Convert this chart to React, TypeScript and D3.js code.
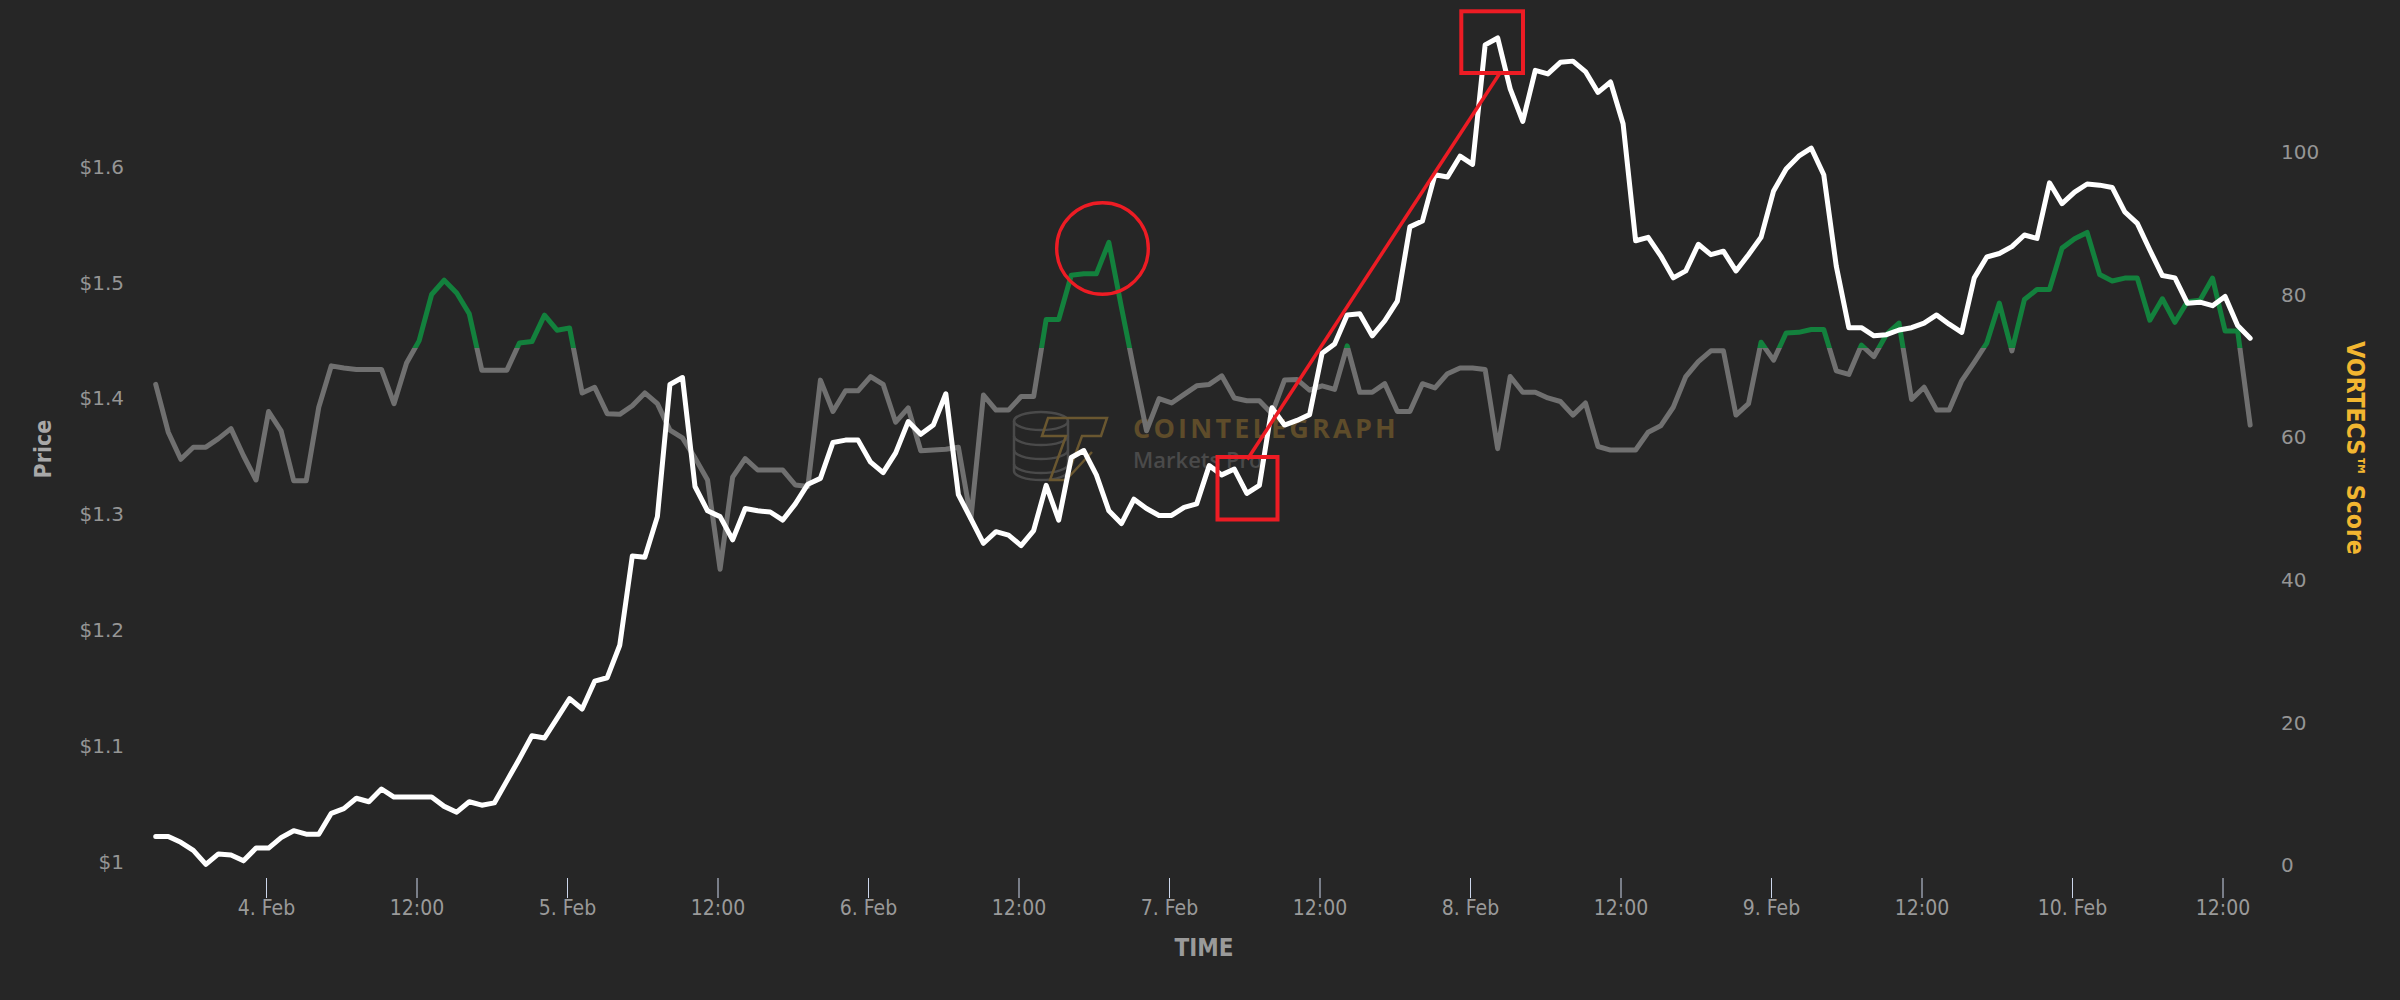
import React from 'react';
import * as d3 from 'd3';

// hourly samples, first sample 3 Feb 15:10 (UTC)
const START = Date.UTC(2021, 1, 3, 15, 10);
const HOUR = 3600000;

const priceValues: number[] = [
  1.022, 1.022, 1.017, 1.010, 0.998, 1.007, 1.006, 1.001, 1.012,
  1.012, 1.021, 1.027, 1.024, 1.024, 1.042, 1.046, 1.055, 1.052, 1.063, 1.056, 1.056,
  1.056, 1.056, 1.048, 1.043, 1.052, 1.049, 1.051, 1.070, 1.089, 1.109, 1.107, 1.124,
  1.141, 1.132, 1.156, 1.159, 1.187, 1.264, 1.263, 1.298, 1.412, 1.418, 1.324, 1.303,
  1.298, 1.278, 1.305, 1.303, 1.302, 1.295, 1.309, 1.326, 1.331, 1.362, 1.364, 1.364,
  1.345, 1.336, 1.353, 1.380, 1.369, 1.377, 1.404, 1.317, 1.296, 1.275, 1.285, 1.282,
  1.273, 1.286, 1.325, 1.295, 1.349, 1.355, 1.334, 1.303, 1.292, 1.313, 1.305, 1.299,
  1.299, 1.306, 1.309, 1.342, 1.334, 1.339, 1.318, 1.325, 1.392, 1.377, 1.381, 1.386,
  1.439, 1.447, 1.472, 1.473, 1.454, 1.467, 1.484, 1.548, 1.553, 1.593, 1.591, 1.609,
  1.602, 1.705, 1.711, 1.667, 1.639, 1.683, 1.680, 1.690, 1.691, 1.682, 1.664, 1.673,
  1.637, 1.536, 1.539, 1.523, 1.504, 1.510, 1.533, 1.524, 1.527, 1.510, 1.524, 1.539,
  1.579, 1.598, 1.609, 1.616, 1.593, 1.514, 1.461, 1.461, 1.454, 1.455, 1.459, 1.461,
  1.465, 1.472, 1.464, 1.457, 1.504, 1.522, 1.525, 1.531, 1.541, 1.538, 1.586, 1.568,
  1.578, 1.585, 1.584, 1.582, 1.561, 1.551, 1.528, 1.506, 1.504, 1.482, 1.483, 1.480,
  1.488, 1.463, 1.452,
];

const scoreValues: number[] = [
  67.4, 60.7, 56.9, 58.6, 58.6, 59.8, 61.2, 57.4, 54.0,
  63.6, 60.9, 53.9, 53.9, 64.2, 70.0, 69.7, 69.5, 69.5, 69.5, 64.7, 70.4,
  73.5, 80.0, 82.0, 80.2, 77.3, 69.4, 69.4, 69.4, 73.2, 73.4, 77.1, 75.0,
  75.3, 66.2, 67.0, 63.3, 63.2, 64.4, 66.2, 64.7, 61.0, 59.9, 57.1, 54.0,
  41.5, 54.4, 57.0, 55.4, 55.4, 55.4, 53.3, 53.1, 68.0, 63.6, 66.5, 66.5,
  68.5, 67.4, 62.1, 64.1, 58.1, 58.2, 58.3, 58.6, 48.6, 65.9, 63.8, 63.8,
  65.7, 65.7, 76.5, 76.5, 82.7, 82.9, 82.9, 87.3, 78.2, 69.4, 60.9, 65.4,
  64.8, 66.0, 67.2, 67.4, 68.6, 65.5, 65.1, 65.1, 63.3, 68.0, 68.1, 66.6,
  67.2, 66.7, 72.8, 66.3, 66.3, 67.5, 63.6, 63.6, 67.5, 66.9, 68.9, 69.7,
  69.7, 69.5, 58.4, 68.5, 66.3, 66.3, 65.5, 65.0, 63.1, 64.8, 58.7, 58.2,
  58.2, 58.2, 60.7, 61.6, 64.2, 68.5, 70.6, 72.1, 72.1, 63.1, 64.7, 73.3,
  70.8, 74.6, 74.7, 75.1, 75.1, 69.3, 68.8, 72.9, 71.3, 74.4, 76.0, 65.3,
  67.0, 63.8, 63.8, 67.9, 70.5, 73.2, 78.8, 72.1, 79.3, 80.7, 80.7, 86.5,
  87.8, 88.7, 82.8, 81.9, 82.3, 82.3, 76.4, 79.4, 76.1, 79.0, 79.2, 82.3,
  74.9, 74.9, 61.7,
];

const xTickLabels = ['4. Feb', '12:00', '5. Feb', '12:00', '6. Feb', '12:00', '7. Feb', '12:00', '8. Feb', '12:00', '9. Feb', '12:00', '10. Feb', '12:00'];
const priceTicks = [1, 1.1, 1.2, 1.3, 1.4, 1.5, 1.6];
const scoreTicks = [0, 20, 40, 60, 80, 100];
const GREEN_FROM = 72.5;

const BG = '#262626';
const RED = '#ed1c24';
const condensed = "'DejaVu Sans Condensed', 'DejaVu Sans', sans-serif";

export default function App() {
  const W = 2400;
  const H = 1000;
  const x0 = Date.UTC(2021, 1, 4);
  const x = d3.scaleUtc().domain([new Date(x0), new Date(x0 + 156 * HOUR)]).range([266.5, 2223]);
  const yP = d3.scaleLinear().domain([1, 1.6]).range([862, 166.6]);
  const yS = d3.scaleLinear().domain([0, 100]).range([865.3, 151.8]);
  const times = priceValues.map((_, i) => new Date(START + i * HOUR));

  const priceLine = d3.line<number>().x((_, i) => x(times[i])).y((d) => yP(d))(priceValues) || '';
  const scoreLine = d3.line<number>().x((_, i) => x(times[i])).y((d) => yS(d))(scoreValues) || '';
  const thrY = yS(GREEN_FROM);
  const xTicks = xTickLabels.map((l, i) => ({ l, t: new Date(x0 + i * 12 * HOUR) }));

  return (
    <svg width={W} height={H} style={{ position: 'absolute', left: 0, top: 0, display: 'block' }}>
      <defs>
        <clipPath id="greyZone"><rect x={0} y={thrY} width={W} height={H - thrY} /></clipPath>
        <clipPath id="greenZone"><rect x={0} y={0} width={W} height={thrY} /></clipPath>
      </defs>
      <rect x={0} y={0} width={W} height={H} fill={BG} />

      {/* watermark */}
      <g>
        <g fill="none" stroke="#4a4a4a" strokeWidth={2.5}>
          <ellipse cx={1041} cy={421} rx={27} ry={9} />
          <path d="M1014,421 V471 M1068,421 V471" />
          <path d="M1014,436 A27,9 0 0 0 1068,436" />
          <path d="M1014,450 A27,9 0 0 0 1068,450" />
          <path d="M1014,464 A27,9 0 0 0 1068,464" />
          <path d="M1014,471 A27,9 0 0 0 1068,471" />
        </g>
        <path d="M1048,418 L1107,418 L1101,436 L1082,436 L1066,480 L1050,480 L1066,436 L1042,436 Z M1066,480 L1092,452" fill="none" stroke="#6a5730" strokeWidth={2.5} />
        <text x={1133} y={438} fill="#5e4c2a" fontFamily="'Open Sans', sans-serif" fontWeight={700} fontSize={27} letterSpacing={3.2}>COINTELEGRAPH</text>
        <text x={1133} y={468} fill="#4a4a4a" fontFamily="'Open Sans', sans-serif" fontWeight={600} fontSize={22}>Markets Pro</text>
      </g>

      {/* score line (grey / green zones) */}
      <path d={scoreLine} fill="none" stroke="#707070" strokeWidth={5} strokeLinejoin="round" strokeLinecap="round" clipPath="url(#greyZone)" />
      <path d={scoreLine} fill="none" stroke="#13813d" strokeWidth={5} strokeLinejoin="round" strokeLinecap="round" clipPath="url(#greenZone)" />

      {/* price line */}
      <path d={priceLine} fill="none" stroke="#ffffff" strokeWidth={5} strokeLinejoin="round" strokeLinecap="round" />

      {/* x axis */}
      {xTicks.map((d, i) => (
        <g key={i}>
          <line x1={x(d.t)} x2={x(d.t)} y1={878} y2={898} stroke="#ccd6eb" strokeWidth={1} />
          <text x={x(d.t)} y={915} textAnchor="middle" fill="#9a9a9a" fontFamily={condensed} fontSize={21}>{d.l}</text>
        </g>
      ))}
      <text x={1204} y={956} textAnchor="middle" fill="#9a9a9a" fontFamily={condensed} fontWeight="bold" fontSize={24}>TIME</text>

      {/* left axis */}
      {priceTicks.map((v) => (
        <text key={v} x={124} y={yP(v) + 7} textAnchor="end" fill="#959595" fontFamily="'DejaVu Sans', sans-serif" fontSize={20}>{'$' + d3.format('~g')(v)}</text>
      ))}
      <text transform={`translate(51,${449}) rotate(-90)`} textAnchor="middle" fill="#a8a8a8" fontFamily={condensed} fontWeight="bold" fontSize={23}>Price</text>

      {/* right axis */}
      {scoreTicks.map((v) => (
        <text key={v} x={2281} y={yS(v) + 7} textAnchor="start" fill="#959595" fontFamily="'DejaVu Sans', sans-serif" fontSize={20}>{v}</text>
      ))}
      <text transform={`translate(2347,${448}) rotate(90)`} textAnchor="middle" fill="#f2b630" fontFamily={condensed} fontWeight="bold" fontSize={24.5}>VORTECS™ Score</text>

      {/* red annotations */}
      <circle cx={1102.5} cy={248.5} r={45.8} fill="none" stroke={RED} strokeWidth={3.4} />
      <rect x={1217.5} y={457} width={60} height={62.5} fill="none" stroke={RED} strokeWidth={4} />
      <rect x={1461.3} y={11.3} width={61.7} height={61.7} fill="none" stroke={RED} strokeWidth={4} />
      <line x1={1247.3} y1={459.5} x2={1499.3} y2={74} stroke={RED} strokeWidth={3.5} />
    </svg>
  );
}
